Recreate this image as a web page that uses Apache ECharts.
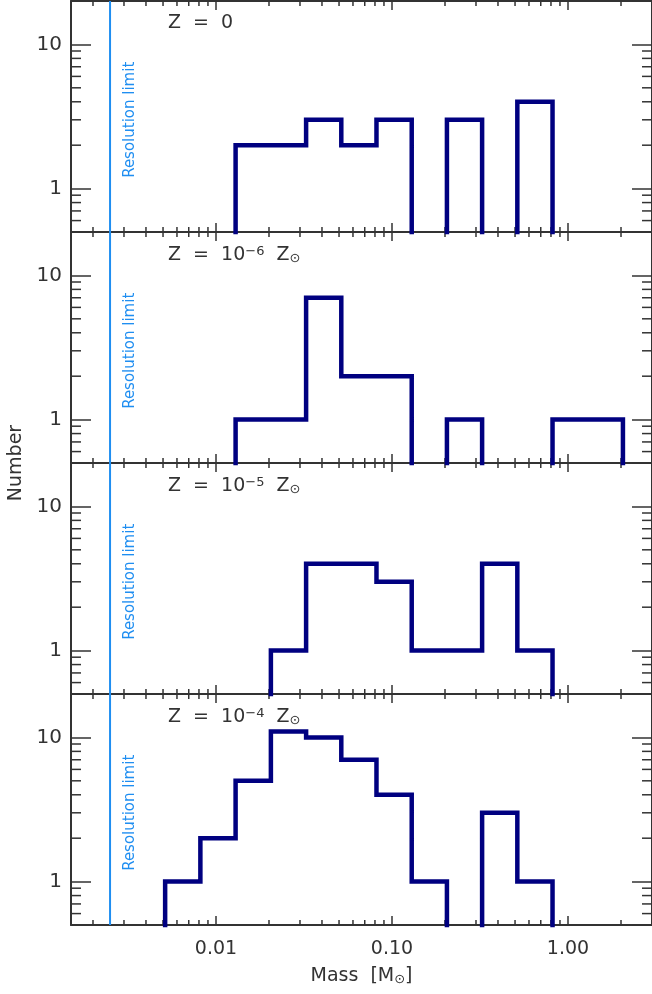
<!DOCTYPE html>
<html>
<head>
<meta charset="utf-8">
<script src="https://cdn.jsdelivr.net/npm/echarts@6.0.0/dist/echarts.min.js"></script>
<style>
html, body { margin: 0; padding: 0; background: #fff; }
#main { width: 652px; height: 994px; }
</style>
</head>
<body>
<div id="main"></div>
<script>
// log-spaced mass bins (0.2 dex), Msun
var binEdges = [0.00514, 0.00815, 0.01292, 0.0205, 0.0325, 0.0515, 0.0816, 0.1294, 0.2051, 0.3250, 0.5152, 0.8165, 1.2941, 2.0510];

// number of objects per bin, one array per metallicity
var countsZ0  = [0, 0, 2, 2, 3, 2, 3, 0, 3, 0, 4, 0, 0];
var countsZm6 = [0, 0, 1, 1, 7, 2, 2, 0, 1, 0, 0, 1, 1];
var countsZm5 = [0, 0, 0, 1, 4, 4, 3, 1, 1, 4, 1, 0, 0];
var countsZm4 = [1, 2, 5, 11, 10, 7, 4, 1, 0, 3, 1, 0, 0];

var panelCounts = [countsZ0, countsZm6, countsZm5, countsZm4];
var panelLabels = [
    'Z  =  0',
    'Z  =  10{sup|\u22126}  Z{sun|\u2299}',
    'Z  =  10{sup|\u22125}  Z{sun|\u2299}',
    'Z  =  10{sup|\u22124}  Z{sun|\u2299}'
];

var resLimit = 0.0025;
var resLabelAt = 3;   // Number value where the rotated label is centred
var xMinorTicks = [0.002, 0.003, 0.004, 0.005, 0.006, 0.007, 0.008, 0.009,
                   0.02, 0.03, 0.04, 0.05, 0.06, 0.07, 0.08, 0.09,
                   0.2, 0.3, 0.4, 0.5, 0.6, 0.7, 0.8, 0.9, 2, 3];
var yMinorTicks = [0.6, 0.7, 0.8, 0.9, 2, 3, 4, 5, 6, 7, 8, 9];

var X_MIN = 0.0015, X_MAX = 3, Y_MIN = 0.5, Y_MAX = 20;
var FLOOR = 0.1;   // empty bins sit below the axis and get clipped
var FONT = 'DejaVu Sans';
var INK = '#333';
var NAVY = '#000080';
var BLUE = '#1f8ef1';

var panelTop = [1, 232, 463, 694];
var panelH = 231;

var chart = echarts.init(document.getElementById('main'));

function stepPoints(counts) {
    var pts = [[binEdges[0], FLOOR]];
    for (var k = 0; k < counts.length; k++) {
        var v = counts[k] > 0 ? counts[k] : FLOOR;
        pts.push([binEdges[k], v], [binEdges[k + 1], v]);
    }
    pts.push([binEdges[counts.length], FLOOR]);
    return pts;
}

function xMinorItem(params, api) {
    var cs = params.coordSys;
    var px = api.coord([api.value(0), api.value(1)])[0];
    var st = { stroke: INK, lineWidth: 1.5 };
    var yb = cs.y + cs.height;
    return { type: 'group', children: [
        { type: 'line', shape: { x1: px, y1: yb, x2: px, y2: yb - 5 }, style: st },
        { type: 'line', shape: { x1: px, y1: cs.y, x2: px, y2: cs.y + 5 }, style: st }
    ] };
}

function yMinorItem(params, api) {
    var cs = params.coordSys;
    var py = api.coord([api.value(0), api.value(1)])[1];
    var st = { stroke: INK, lineWidth: 1.5 };
    var xr = cs.x + cs.width;
    return { type: 'group', children: [
        { type: 'line', shape: { x1: cs.x, y1: py, x2: cs.x + 10, y2: py }, style: st },
        { type: 'line', shape: { x1: xr, y1: py, x2: xr - 10, y2: py }, style: st }
    ] };
}

// vertical resolution-limit line across the panel plus its rotated label
function resLimitItem(params, api) {
    var cs = params.coordSys;
    var p = api.coord([api.value(0), api.value(1)]);
    return { type: 'group', children: [
        { type: 'line', shape: { x1: p[0], y1: cs.y, x2: p[0], y2: cs.y + cs.height },
          style: { stroke: BLUE, lineWidth: 2 } },
        { type: 'text', x: p[0] + 20, y: p[1], rotation: Math.PI / 2,
          style: { text: 'Resolution limit', fill: BLUE, fontSize: 15, fontFamily: FONT,
                   align: 'center', verticalAlign: 'middle',
                   textAlign: 'center', textVerticalAlign: 'middle' } }
    ] };
}

var richText = {
    sup: { fontSize: 13, fontFamily: FONT, color: INK, verticalAlign: 'top', lineHeight: 20 },
    sun: { fontSize: 13, fontFamily: FONT, color: INK, verticalAlign: 'bottom', lineHeight: 14 }
};

var grids = [], xAxes = [], yAxes = [], series = [], titles = [];

for (var i = 0; i < 4; i++) {
    grids.push({ left: 71, width: 581, top: panelTop[i], height: panelH });

    var last = i === 3;
    xAxes.push({
        type: 'log', gridIndex: i, min: X_MIN, max: X_MAX, position: 'bottom',
        axisLine: { onZero: false, lineStyle: { color: INK, width: 2 } },
        axisTick: { inside: true, length: 9, lineStyle: { color: INK, width: 1.5 } },
        axisLabel: {
            show: last, margin: 15, fontSize: 19, fontFamily: FONT, color: INK,
            showMinLabel: false, showMaxLabel: false,
            formatter: function (v) { return v.toFixed(2); }
        },
        splitLine: { show: false },
        name: last ? 'Mass  [M{sun|\u2299}]' : '',
        nameLocation: 'middle', nameGap: 42,
        nameTextStyle: { fontSize: 19, fontFamily: FONT, color: INK, rich: richText }
    });
    xAxes.push({
        type: 'log', gridIndex: i, min: X_MIN, max: X_MAX, position: 'top',
        axisLine: { onZero: false, lineStyle: { color: INK, width: 2 } },
        axisTick: { inside: true, length: 9, lineStyle: { color: INK, width: 1.5 } },
        axisLabel: { show: false },
        splitLine: { show: false }
    });
    yAxes.push({
        type: 'log', gridIndex: i, min: Y_MIN, max: Y_MAX, position: 'left',
        axisLine: { onZero: false, lineStyle: { color: INK, width: 2 } },
        axisTick: { inside: true, length: 20, lineStyle: { color: INK, width: 1.5 } },
        axisLabel: {
            margin: 9, fontSize: 20, fontFamily: FONT, color: INK,
            showMinLabel: false, showMaxLabel: false
        },
        splitLine: { show: false }
    });
    yAxes.push({
        type: 'log', gridIndex: i, min: Y_MIN, max: Y_MAX, position: 'right',
        axisLine: { onZero: false, lineStyle: { color: INK, width: 2 } },
        axisTick: { inside: true, length: 20, lineStyle: { color: INK, width: 1.5 } },
        axisLabel: { show: false },
        splitLine: { show: false }
    });

    series.push({
        type: 'line', xAxisIndex: 2 * i, yAxisIndex: 2 * i,
        data: stepPoints(panelCounts[i]),
        showSymbol: false, clip: true,
        lineStyle: { color: NAVY, width: 4.5, join: 'miter' },
        z: 3
    });
    series.push({
        type: 'custom', xAxisIndex: 2 * i, yAxisIndex: 2 * i,
        renderItem: resLimitItem, silent: true, z: 2,
        data: [[resLimit, resLabelAt]]
    });
    series.push({
        type: 'custom', xAxisIndex: 2 * i, yAxisIndex: 2 * i,
        renderItem: xMinorItem, silent: true,
        data: xMinorTicks.map(function (v) { return [v, 1]; })
    });
    series.push({
        type: 'custom', xAxisIndex: 2 * i, yAxisIndex: 2 * i,
        renderItem: yMinorItem, silent: true,
        data: yMinorTicks.map(function (v) { return [0.01, v]; })
    });

    titles.push({
        text: panelLabels[i], left: 163, top: panelTop[i] + 8,
        textStyle: { fontSize: 19, fontWeight: 'normal', fontFamily: FONT, color: INK, rich: richText }
    });
}

var option = {
    animation: false,
    backgroundColor: '#fff',
    title: titles,
    grid: grids,
    xAxis: xAxes,
    yAxis: yAxes,
    series: series,
    graphic: [{
        type: 'text', x: 16, y: 463, rotation: Math.PI / 2,
        style: {
            text: 'Number', fill: INK, fontSize: 19, fontFamily: FONT,
            textAlign: 'center', textVerticalAlign: 'middle'
        }
    }]
};

chart.setOption(option);
</script>
</body>
</html>
